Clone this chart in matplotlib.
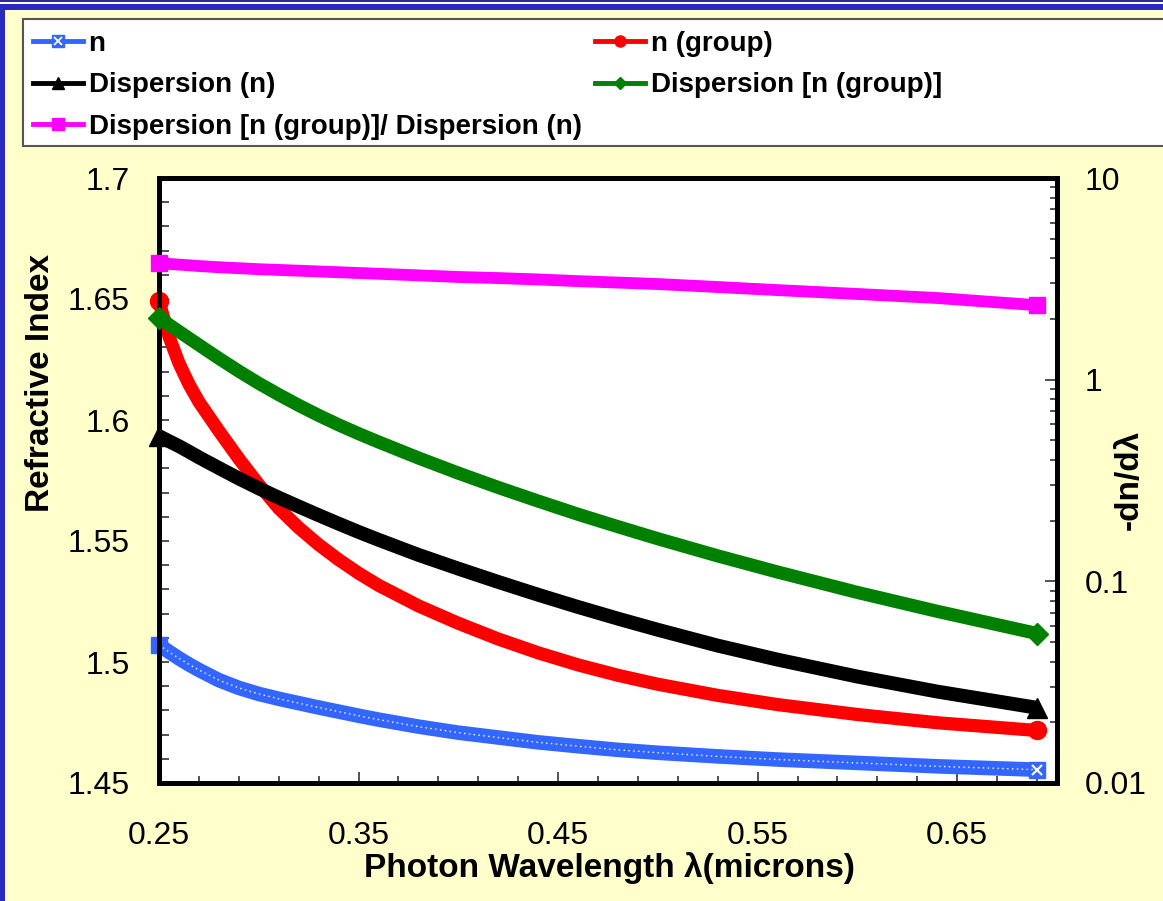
import numpy as np
import matplotlib
matplotlib.use('Agg')
from matplotlib import pyplot as plt
from matplotlib.lines import Line2D
from matplotlib.patches import Rectangle
from matplotlib.ticker import FixedLocator, FuncFormatter, LogLocator, NullFormatter


# wavelength in microns
wavelength = [0.25, 0.255, 0.26, 0.265, 0.27, 0.28, 0.29, 0.30, 0.31, 0.32, 0.33, 0.34, 0.35,
              0.36, 0.38, 0.40, 0.42, 0.44, 0.46, 0.48, 0.50, 0.53, 0.56, 0.60, 0.64, 0.69]

# refractive index and group index (left axis)
n_index = [1.5070, 1.5042, 1.5015, 1.4990, 1.4967, 1.4925, 1.4893, 1.4868, 1.4848, 1.4830,
           1.4812, 1.4795, 1.4778, 1.4762, 1.4733, 1.4708, 1.4688, 1.4668, 1.4652, 1.4637,
           1.4625, 1.4610, 1.4597, 1.4583, 1.4569, 1.4555]
n_group = [1.6490, 1.6345, 1.6235, 1.6148, 1.6075, 1.5955, 1.5840, 1.5733, 1.5635, 1.5555,
           1.5485, 1.5423, 1.5367, 1.5317, 1.5232, 1.5160, 1.5095, 1.5038, 1.4988, 1.4945,
           1.4908, 1.4862, 1.4824, 1.4783, 1.4749, 1.4717]

# -dn/dlambda (right axis, log)
disp_n = [0.525, 0.4955, 0.468, 0.4395, 0.412, 0.3648, 0.3236, 0.2891, 0.2600, 0.2350,
          0.2128, 0.1932, 0.1758, 0.1607, 0.1353, 0.1156, 0.0993, 0.0858, 0.0746, 0.0653,
          0.0575, 0.0480, 0.0409, 0.0337, 0.0284, 0.0236]
disp_group = [2.028, 1.875, 1.734, 1.605, 1.487, 1.276, 1.102, 0.959, 0.843, 0.746,
              0.665, 0.597, 0.540, 0.491, 0.409, 0.344, 0.292, 0.250, 0.215, 0.1866,
              0.1626, 0.1337, 0.1112, 0.0881, 0.0710, 0.0551]
disp_ratio = [3.78, 3.75, 3.72, 3.69, 3.66, 3.61, 3.57, 3.53, 3.50, 3.47,
              3.44, 3.41, 3.38, 3.35, 3.29, 3.23, 3.19, 3.14, 3.08, 3.03,
              2.98, 2.88, 2.78, 2.66, 2.54, 2.34]

labels = ['n', 'Dispersion (n)', 'Dispersion [n (group)]/ Dispersion (n)',
          'n (group)', 'Dispersion [n (group)]']

BLUE = '#3366FF'
RED = '#FF0000'
BLACK = '#000000'
GREEN = '#008000'
MAGENTA = '#FF00FF'
BG = '#FFFFCC'
FRAME = '#2A2AC0'

plt.rcParams['font.family'] = ['Liberation Sans', 'DejaVu Sans']

W, H = 1163, 901
fig = plt.figure(figsize=(W / 100, H / 100), dpi=100, facecolor=BG)

# blue slide frame and the white legend panel
fig.add_artist(Rectangle((0, 0), 5 / W, 1, transform=fig.transFigure, color=FRAME, lw=0))
fig.add_artist(Rectangle((0, 1 - 1.7 / H), 1, 1.7 / H, transform=fig.transFigure, color='#2B2B9A', lw=0))
fig.add_artist(Rectangle((0, 1 - 4 / H), 1, 2.3 / H, transform=fig.transFigure, color='white', lw=0))
fig.add_artist(Rectangle((0, 1 - 10 / H), 1, 6 / H, transform=fig.transFigure, color=FRAME, lw=0))
fig.add_artist(Rectangle((23 / W, 1 - 146 / H), 1.0, 127 / H, transform=fig.transFigure,
                         facecolor='white', edgecolor='#555555', lw=1.5))

ax = fig.add_axes([159 / W, 1 - 783 / H, 898 / W, 605 / H])
ax.set_facecolor('white')
ax2 = ax.twinx()

# left axis: n and n(group)
ax.plot(wavelength, n_index, color=BLUE, lw=10.5, solid_capstyle='butt', clip_on=False,
        marker='s', ms=12, mfc=BLUE, mec=BLUE, markevery=[0, -1], zorder=3)
ax.plot(wavelength, n_index, color='#FFFFDD', lw=1.0, ls=(0, (1, 2.5)), clip_on=False, zorder=4)
ax.plot(wavelength, n_index, ls='none', marker='x', ms=7, mew=1.5, color='#FFFFEE',
        markevery=[-1], clip_on=False, zorder=5)
ax.plot(wavelength, n_group, color=RED, lw=9.5, solid_capstyle='butt', clip_on=False,
        marker='o', ms=13, mfc=RED, mec=RED, markevery=[0, -1], zorder=3)

# right axis: dispersion curves
ax2.plot(wavelength, disp_n, color=BLACK, lw=10, solid_capstyle='butt', clip_on=False,
         marker='^', ms=14, markevery=[0, -1], zorder=3)
ax2.plot(wavelength, disp_group, color=GREEN, lw=9.5, solid_capstyle='butt', clip_on=False,
         marker='D', ms=11, markevery=[0, -1], zorder=3)
ax2.plot(wavelength, disp_ratio, color=MAGENTA, lw=8.5, solid_capstyle='butt', clip_on=False,
         marker='s', ms=11, markevery=[0, -1], zorder=3)

ax.set_xlim(0.25, 0.70)
ax.set_ylim(1.45, 1.70)
ax2.set_yscale('log')
ax2.set_ylim(0.01, 10)

fmt = FuncFormatter(lambda v, p: '%g' % v)
ax.xaxis.set_major_locator(FixedLocator([0.25, 0.35, 0.45, 0.55, 0.65]))
ax.xaxis.set_minor_locator(FixedLocator(np.arange(0.25, 0.70, 0.02)))
ax.xaxis.set_major_formatter(fmt)
ax.yaxis.set_major_locator(FixedLocator([1.45, 1.5, 1.55, 1.6, 1.65, 1.7]))
ax.yaxis.set_minor_locator(FixedLocator(np.arange(1.45, 1.70, 0.01)))
ax.yaxis.set_major_formatter(fmt)
ax2.yaxis.set_major_locator(LogLocator(base=10))
ax2.yaxis.set_minor_locator(LogLocator(base=10, subs=np.arange(2, 10)))
ax2.yaxis.set_major_formatter(fmt)
ax2.yaxis.set_minor_formatter(NullFormatter())

ax.tick_params(which='both', direction='in', top=False, right=False, width=1.2,
               color='#333333', labelsize=23)
ax.tick_params(axis='x', which='major', length=8, pad=27)
ax.tick_params(axis='x', which='minor', length=5)
ax.tick_params(axis='y', which='both', length=7, pad=21)
ax2.tick_params(which='both', direction='in', width=1.2, color='#333333', labelsize=23)
ax2.tick_params(which='major', length=9, pad=20)
ax2.tick_params(which='minor', length=5)

for a in (ax, ax2):
    for s in a.spines.values():
        s.set_linewidth(3.6)
        s.set_color('black')

ax.set_xlabel('Photon Wavelength λ(microns)', fontsize=24, fontweight='bold')
ax.xaxis.set_label_coords(0.502, -0.14)
ax.xaxis.label.set_va('center')
ax.set_ylabel('Refractive Index', fontsize=24, fontweight='bold')
ax.yaxis.set_label_coords(-0.1325, 0.661)
ax.yaxis.label.set_va('center')
ax2.set_ylabel('-dn/dλ', fontsize=24, fontweight='bold', rotation=90)
ax2.yaxis.set_label_coords(1.081, 0.501)
ax2.yaxis.label.set_va('center')

# legend handles
h_n = (Line2D([], [], color=BLUE, lw=3.5, marker='s', ms=9, mfc=BLUE, mec=BLUE),
       Line2D([], [], ls='none', marker='x', ms=6, mew=1.3, color='#FFFFEE'))
h_dn = Line2D([], [], color=BLACK, lw=3.5, marker='^', ms=9)
h_ratio = Line2D([], [], color=MAGENTA, lw=3.5, marker='s', ms=8)
h_ng = Line2D([], [], color=RED, lw=3.5, marker='o', ms=8)
h_dng = Line2D([], [], color=GREEN, lw=3.5, marker='D', ms=6)

fig.legend([h_n, h_dn, h_ratio, h_ng, h_dng], labels, ncol=2, loc='upper left',
           bbox_to_anchor=(33 / W, 1 - 31 / H), frameon=False, borderpad=0,
           borderaxespad=0, handlelength=1.8, handletextpad=0.2, columnspacing=0.5,
           labelspacing=0.55, prop={'weight': 'bold', 'size': 20})

plt.savefig('out.png', dpi=100, facecolor=fig.get_facecolor())
